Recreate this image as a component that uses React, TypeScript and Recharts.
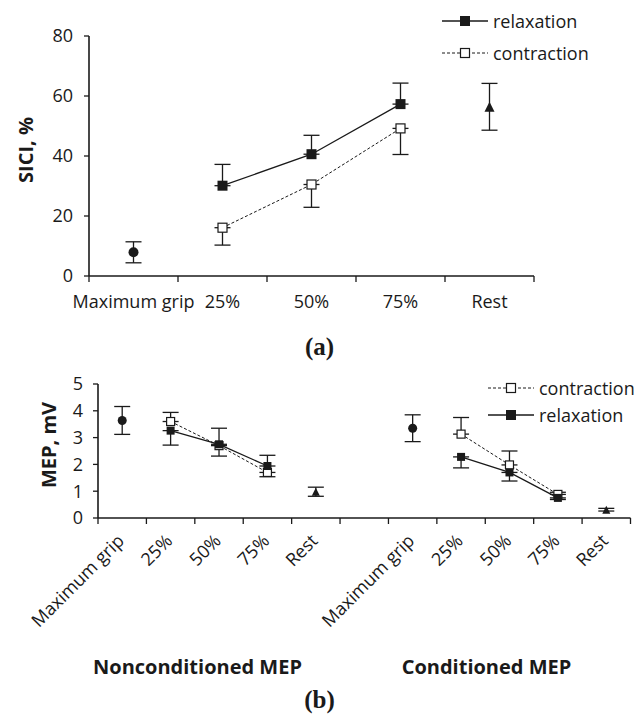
import React from "react"
import { ComposedChart, Line, XAxis, YAxis, ErrorBar, Legend, Label } from "recharts"

// (a) SICI
const catsA = ["Maximum grip", "25%", "50%", "75%", "Rest"]
const gripA = [7.9, null, null, null, null]
const gripErrA = [3.5, null, null, null, null]
const relaxA = [null, 30.1, 40.6, 57.3, null]
const relaxUpA = [null, 7.1, 6.3, 7.0, null]
const contrA = [null, 16.1, 30.5, 49.2, null]
const contrDownA = [null, 5.8, 7.6, 8.7, null]
const restA = [null, null, null, null, 56.4]
const restErrA = [null, null, null, null, 7.8]
const ticksA = [0, 20, 40, 60, 80]

// (b) MEP
const catsB = ["Maximum grip", "25%", "50%", "75%", "Rest", "", "Maximum grip", "25%", "50%", "75%", "Rest"]
const gripB = [3.64, null, null, null, null, null, 3.35, null, null, null, null]
const gripErrB = [0.52, null, null, null, null, null, 0.5, null, null, null, null]
const contrB = [null, 3.6, 2.7, 1.7, null, null, null, 3.13, 1.98, 0.88, null]
const contrUpB = [null, 0.34, 0.65, 0.64, null, null, null, 0.62, 0.52, 0.08, null]
const relaxB = [null, 3.26, 2.75, 1.94, null, null, null, 2.28, 1.7, 0.75, null]
const relaxDownB = [null, 0.54, 0.44, 0.4, null, null, null, 0.41, 0.32, 0.06, null]
const restB = [null, null, null, null, 0.98, null, null, null, null, null, 0.31]
const restErrB = [null, null, null, null, 0.17, null, null, null, null, null, 0.05]
const ticksB = [0, 1, 2, 3, 4, 5]
const groupsB = ["Nonconditioned MEP", "Conditioned MEP"]

const INK = "#1a1a1a"
const FONT = "'Open Sans', sans-serif"
const FS = 18

const sym = (v: number | null) => (v == null ? null : [v, v])
const up = (v: number | null) => (v == null ? null : [0, v])
const down = (v: number | null) => (v == null ? null : [v, 0])

const rowsA = catsA.map((c, i) => ({
  x: i + 0.5,
  grip: gripA[i], gripErr: sym(gripErrA[i]),
  relax: relaxA[i], relaxErr: up(relaxUpA[i]),
  contr: contrA[i], contrErr: down(contrDownA[i]),
  rest: restA[i], restErr: sym(restErrA[i]),
}))

const rowsB = catsB.map((c, i) => ({
  x: i + 0.5,
  grip: gripB[i], gripErr: sym(gripErrB[i]),
  relax: relaxB[i], relaxErr: down(relaxDownB[i]),
  contr: contrB[i], contrErr: up(contrUpB[i]),
  rest: restB[i], restErr: sym(restErrB[i]),
}))

const halfTicks = (n: number) => Array.from({ length: 2 * n + 1 }, (_, i) => i / 2)

// markers
const mk = (shape: string, size: number) => (props: any) => {
  const { cx, cy, index } = props
  if (cx == null || cy == null || props.value == null) return <g key={`e-${index}`} />
  const h = size / 2
  if (shape === "circle") return <circle key={index} cx={cx} cy={cy} r={h} fill={INK} />
  if (shape === "tri")
    return <polygon key={index} points={`${cx},${cy - h} ${cx + h},${cy + h} ${cx - h},${cy + h}`} fill={INK} />
  if (shape === "open")
    return <rect key={index} x={cx - h} y={cy - h} width={size} height={size} fill="#fff" stroke={INK} strokeWidth={1.2} />
  return <rect key={index} x={cx - h} y={cy - h} width={size} height={size} fill={INK} />
}

const CatTick = (props: any) => {
  const { x, y, payload, cats, rotate } = props
  const v = payload.value
  if (Number.isInteger(v)) return <line x1={x} y1={y} x2={x} y2={y + 6} stroke={INK} strokeWidth={1.3} />
  const label = cats[Math.floor(v)]
  if (rotate) {
    const tx = x + 3
    const ty = y + 24
    return (
      <text x={tx} y={ty} transform={`rotate(-45 ${tx} ${ty})`} textAnchor="end" fill={INK} fontSize={FS} fontFamily={FONT}>
        {label}
      </text>
    )
  }
  return (
    <text x={x} y={y + 19} dy="0.71em" textAnchor="middle" fill={INK} fontSize={FS} fontFamily={FONT}>
      {label}
    </text>
  )
}

const LegendBox = ({ items, rowH }: { items: { label: string; dashed: boolean }[]; rowH: number }) => (
  <div style={{ fontFamily: FONT, fontSize: FS, color: INK, whiteSpace: "nowrap" }}>
    {items.map((it) => (
      <div key={it.label} style={{ display: "flex", alignItems: "center", height: rowH }}>
        <svg width={46} height={14} style={{ marginRight: 5 }}>
          <line x1={0} y1={7} x2={46} y2={7} stroke={INK} strokeWidth={it.dashed ? 1 : 1.3} strokeDasharray={it.dashed ? "3 2" : undefined} />
          {it.dashed ? (
            <rect x={18.5} y={2.5} width={9} height={9} fill="#fff" stroke={INK} strokeWidth={1.2} />
          ) : (
            <rect x={18} y={2} width={10} height={10} fill={INK} />
          )}
        </svg>
        <span>{it.label}</span>
      </div>
    ))}
  </div>
)

// rotated axis title, centred on (cx, cy)
const yLabel = (text: string, cx: number, cy: number) => () => (
  <text x={cx} y={cy} transform={`rotate(-90 ${cx} ${cy})`} textAnchor="middle" dominantBaseline="central" fontFamily={FONT} fontWeight={700} fontSize={20} fill={INK}>
    {text}
  </text>
)

const eb = { width: 8, stroke: INK, strokeWidth: 1.3, direction: "y" as const }

const groupStyle: React.CSSProperties = {
  position: "absolute", top: 653, width: 260, textAlign: "center", fontWeight: 700, fontSize: 20, color: INK, whiteSpace: "nowrap",
}
const panelStyle: React.CSSProperties = {
  position: "absolute", left: 0, width: 639, textAlign: "center", fontFamily: "'Liberation Serif', serif", fontWeight: 700, fontSize: 25, color: INK,
}

export default function App() {
  return (
    <div style={{ position: "absolute", left: 0, top: 0, width: 639, height: 716, background: "#fff", fontFamily: FONT, overflow: "hidden" }}>
      <div style={{ position: "absolute", left: 0, top: 0 }}>
        <ComposedChart width={639} height={330} data={rowsA} margin={{ top: 36, right: 105, left: 17, bottom: 24 }}>
          <XAxis dataKey="x" type="number" domain={[0, 5]} ticks={halfTicks(5)} interval={0} tickSize={0} tickMargin={0}
            tickLine={false} axisLine={{ stroke: INK, strokeWidth: 1.6 }} height={30} tick={<CatTick cats={catsA} />} />
          <YAxis type="number" domain={[0, 80]} ticks={ticksA} interval={0} width={72} tickSize={5} tickMargin={11}
            axisLine={{ stroke: INK, strokeWidth: 1.6 }} tickLine={{ stroke: INK, strokeWidth: 1.3 }}
            tick={{ fill: INK, fontSize: FS, fontFamily: FONT }}>
            <Label content={yLabel("SICI, %", 25, 150)} />
          </YAxis>
          <Legend layout="horizontal" align="center" verticalAlign="middle"
            wrapperStyle={{ left: 442, top: 5, width: 200, height: 64 }}
            content={() => <LegendBox rowH={32} items={[{ label: "relaxation", dashed: false }, { label: "contraction", dashed: true }]} />} />
          <Line dataKey="grip" stroke="none" isAnimationActive={false} dot={mk("circle", 10)} activeDot={false} legendType="none">
            <ErrorBar dataKey="gripErr" {...eb} />
          </Line>
          <Line dataKey="contr" stroke={INK} strokeWidth={1} strokeDasharray="3 2" isAnimationActive={false} dot={mk("open", 9)} activeDot={false}>
            <ErrorBar dataKey="contrErr" {...eb} />
          </Line>
          <Line dataKey="relax" stroke={INK} strokeWidth={1.3} isAnimationActive={false} dot={mk("square", 10)} activeDot={false}>
            <ErrorBar dataKey="relaxErr" {...eb} />
          </Line>
          <Line dataKey="rest" stroke="none" isAnimationActive={false} dot={mk("tri", 10)} activeDot={false} legendType="none">
            <ErrorBar dataKey="restErr" {...eb} />
          </Line>
        </ComposedChart>
      </div>
      <div style={{ ...panelStyle, top: 333 }}>(a)</div>

      <div style={{ position: "absolute", left: 0, top: 360 }}>
        <ComposedChart width={639} height={330} data={rowsB} margin={{ top: 24, right: 8.5, left: 26, bottom: 132 }}>
          <XAxis dataKey="x" type="number" domain={[0, 11]} ticks={halfTicks(11)} interval={0} tickSize={0} tickMargin={0}
            tickLine={false} axisLine={{ stroke: INK, strokeWidth: 1.6 }} height={40} tick={<CatTick cats={catsB} rotate />} />
          <YAxis type="number" domain={[0, 5]} ticks={ticksB} interval={0} width={72} tickSize={5} tickMargin={10}
            axisLine={{ stroke: INK, strokeWidth: 1.6 }} tickLine={{ stroke: INK, strokeWidth: 1.3 }}
            tick={{ fill: INK, fontSize: FS, fontFamily: FONT }}>
            <Label content={yLabel("MEP, mV", 48, 85)} />
          </YAxis>
          <Legend layout="horizontal" align="center" verticalAlign="middle"
            wrapperStyle={{ left: 488, top: 14.5, width: 160, height: 54 }}
            content={() => <LegendBox rowH={27} items={[{ label: "contraction", dashed: true }, { label: "relaxation", dashed: false }]} />} />
          <Line dataKey="grip" stroke="none" isAnimationActive={false} dot={mk("circle", 9)} activeDot={false} legendType="none">
            <ErrorBar dataKey="gripErr" {...eb} />
          </Line>
          <Line dataKey="contr" stroke={INK} strokeWidth={1} strokeDasharray="3 2" isAnimationActive={false} dot={mk("open", 8)} activeDot={false}>
            <ErrorBar dataKey="contrErr" {...eb} />
          </Line>
          <Line dataKey="relax" stroke={INK} strokeWidth={1.3} isAnimationActive={false} dot={mk("square", 8)} activeDot={false}>
            <ErrorBar dataKey="relaxErr" {...eb} />
          </Line>
          <Line dataKey="rest" stroke="none" isAnimationActive={false} dot={mk("tri", 8)} activeDot={false} legendType="none">
            <ErrorBar dataKey="restErr" {...eb} />
          </Line>
        </ComposedChart>
      </div>
      <div style={{ ...groupStyle, left: 197.5 - 130 }}>{groupsB[0]}</div>
      <div style={{ ...groupStyle, left: 486.5 - 130 }}>{groupsB[1]}</div>
      <div style={{ ...panelStyle, top: 686 }}>(b)</div>
    </div>
  )
}
